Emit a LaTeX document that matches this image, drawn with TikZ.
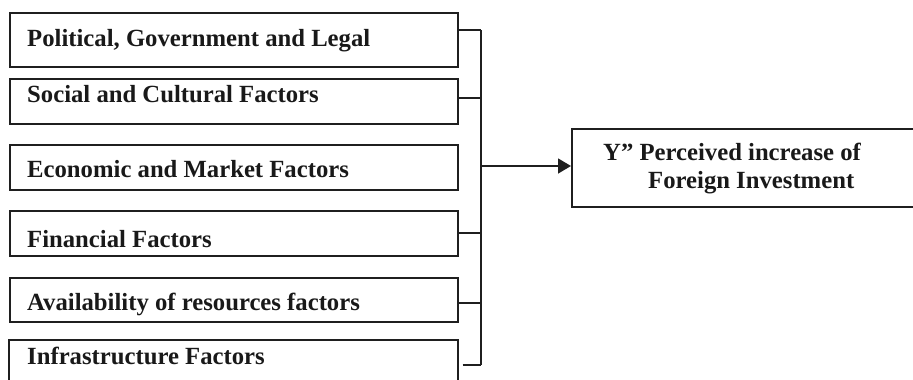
\documentclass[tikz,border=0pt]{standalone}
\usepackage{fontspec}
\setmainfont{Liberation Serif}
\usetikzlibrary{arrows.meta}
\begin{document}
\begin{tikzpicture}[x=1pt,y=-1pt,
  box/.style={draw=black!88, line width=1.5pt, rectangle, inner sep=0pt, anchor=north west},
  lbl/.style={inner sep=0pt, anchor=base west, font=\fontsize{24.7}{29}\selectfont\bfseries, text=black!90},
  conn/.style={draw=black!88, line width=1.5pt}]
\useasboundingbox (0,0) rectangle (913,380);
% factor boxes
\node[box, minimum width=448pt, minimum height=54pt] (b1) at (9,12) {};
\node[box, minimum width=448pt, minimum height=45pt] (b2) at (9,78) {};
\node[box, minimum width=448pt, minimum height=45pt] (b3) at (9,144) {};
\node[box, minimum width=448pt, minimum height=45pt] (b4) at (9,210) {};
\node[box, minimum width=448pt, minimum height=44pt] (b5) at (9,277) {};
\node[box, minimum width=449pt, minimum height=60pt] (b6) at (8,339) {};
% labels
\node[lbl] (t1) at (27,46) {Political, Government and Legal};
\node[lbl] (t2) at (27,102) {Social and Cultural Factors};
\node[lbl] (t3) at (27,177) {Economic and Market Factors};
\node[lbl] (t4) at (27,247) {Financial Factors};
\node[lbl] (t5) at (27,310) {Availability of resources factors};
\node[lbl] (t6) at (27,364) {Infrastructure Factors};
% outcome box
\node[box, minimum width=350pt, minimum height=78pt] (y) at (571,128) {};
\node[lbl] (ty1) at (603,160) {Y” Perceived increase of};
\node[lbl] (ty2) at (648,188) {Foreign Investment};
% spine coordinates
\coordinate (s1) at (481,30);
\coordinate (s2) at (481,98);
\coordinate (s3) at (481,166);
\coordinate (s4) at (481,233);
\coordinate (s5) at (481,303);
\coordinate (s6) at (481,365);
% connectors
\draw[conn] (s1) -- (s6);
\draw[conn] (b1.east |- s1) -- (s1);
\draw[conn] (b2.east |- s2) -- (s2);
\draw[conn] (b4.east |- s4) -- (s4);
\draw[conn] (b5.east |- s5) -- (s5);
\draw[conn] ([xshift=4pt]b6.east |- s6) -- (s6);
\draw[conn, -{Triangle[length=13pt,width=15pt]}] (s3) -- (y.west |- s3);
\end{tikzpicture}
\end{document}
